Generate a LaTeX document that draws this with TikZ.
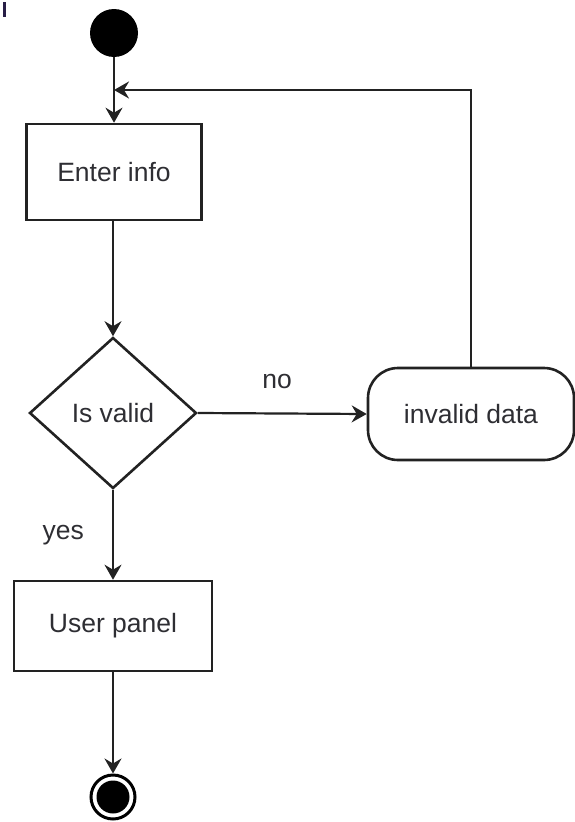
\documentclass[tikz,border=0pt]{standalone}
\usepackage{fontspec}
\setmainfont{Liberation Sans}
\usetikzlibrary{arrows.meta,shapes.geometric}
\definecolor{linec}{HTML}{222222}
\definecolor{textc}{HTML}{2E2E33}
\begin{document}
\begin{tikzpicture}[x=1pt,y=-1pt,
  font=\fontsize{26.5}{30}\selectfont,
  conn/.style={draw=linec, line width=2.2pt},
  arr/.style={conn, -{Stealth[length=15pt,width=17pt,inset=5pt]}},
  actbox/.style={draw=linec, line width=2.6pt, text=textc, inner sep=0pt},
  lbl/.style={text=textc, inner sep=0pt}
]
\useasboundingbox (0,0) rectangle (574,822);
% small mark at top-left corner
\fill[fill={rgb,255:red,40;green,30;blue,70}] (3,2) rectangle (6,17);

\node[circle, fill=black, minimum size=48pt, inner sep=0pt] (start) at (114,33) {};
\node[actbox, minimum width=175pt, minimum height=96pt] (enter) at (114,172) {Enter info};
\node[actbox, diamond, minimum width=167pt, minimum height=151pt] (valid) at (113,413) {Is valid};
\node[actbox, rounded corners=30pt, minimum width=206pt, minimum height=92pt] (invalid) at (471,414) {invalid data};
\node[actbox, minimum width=198pt, minimum height=90pt] (panel) at (113,626) {User panel};
\node[circle, draw=black, line width=3pt, minimum size=44pt, inner sep=0pt] (endc) at (113,797) {};
\fill[black] (endc.center) circle (16.5pt);

\coordinate (join) at (114,90);

\draw[arr] (start) -- (enter);
\draw[arr] (enter.south -| valid.north) -- (valid.north);
\draw[arr] (valid.east) -- (invalid.west) node[lbl, pos=0.47, above=24pt] {no};
\draw[arr] (valid.south) -- (panel.north) node[lbl, pos=0.5, left=28pt] {yes};
\draw[arr] (panel) -- (endc);
\draw[arr] (invalid.north) |- (join);
\end{tikzpicture}
\end{document}
